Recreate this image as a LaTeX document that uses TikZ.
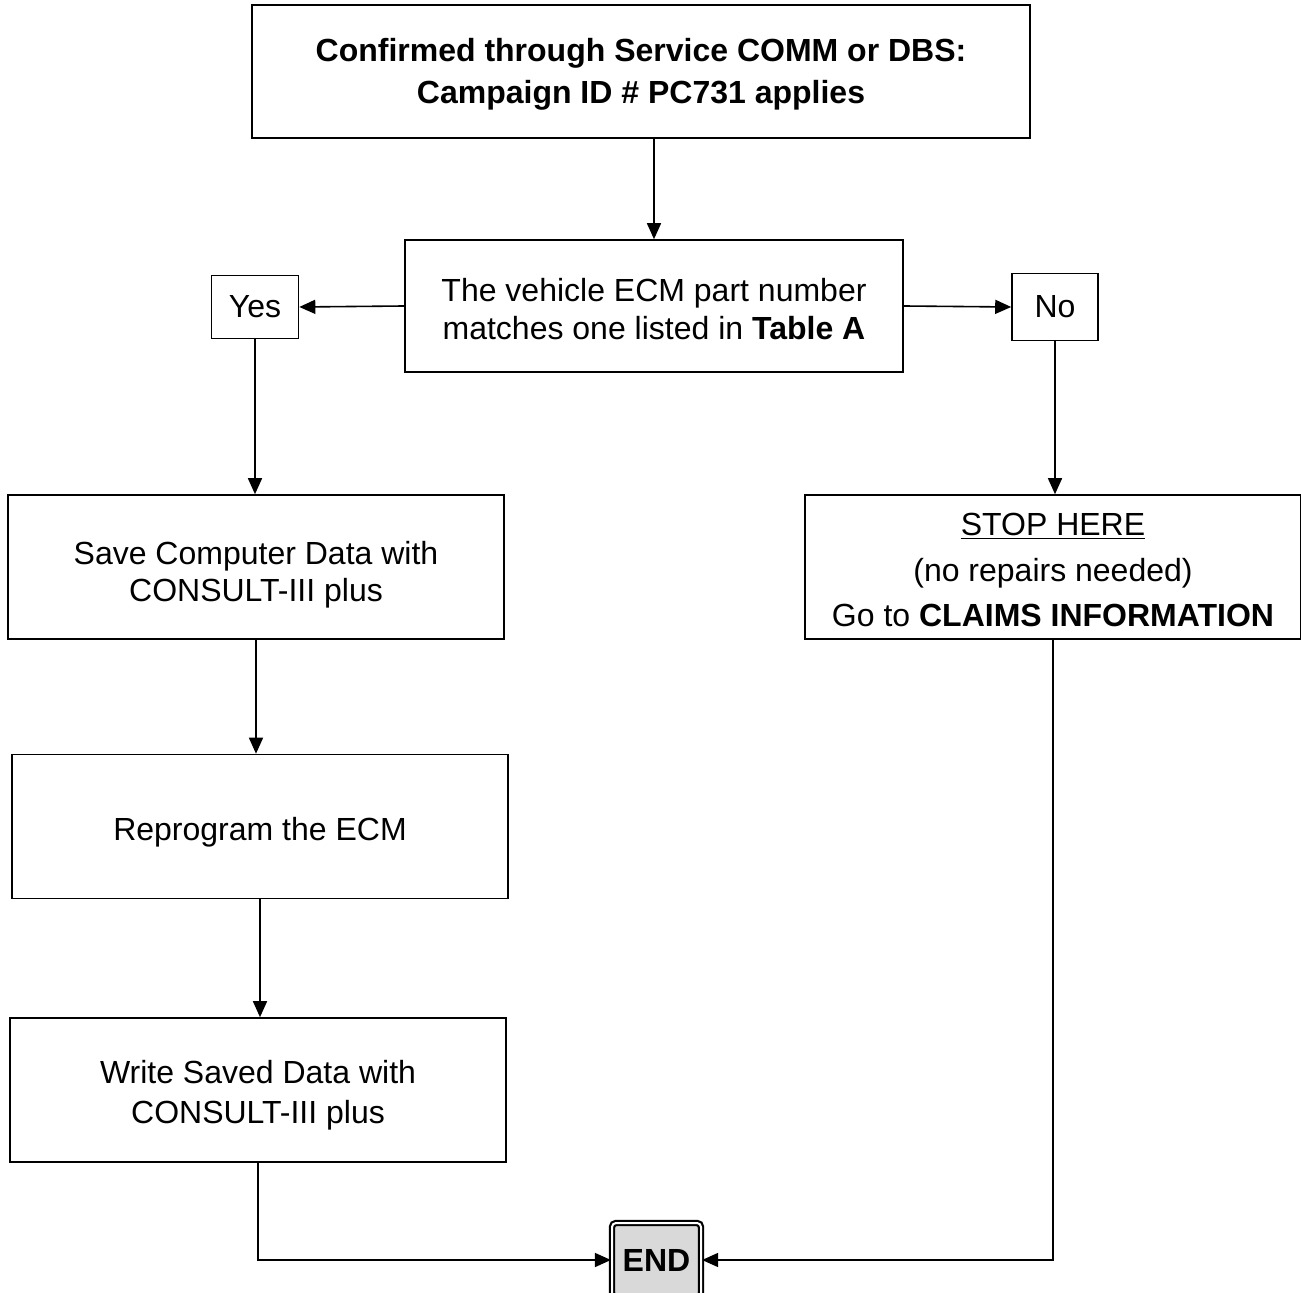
\documentclass[tikz,border=0pt]{standalone}
\usepackage{fontspec}
\setmainfont{Liberation Sans}
\usepackage{tikz}
\usetikzlibrary{arrows.meta}

% empuja el texto hacia abajo dentro de la caja
\newcommand{\dropline}[1]{\rule{0pt}{#1}}

\begin{document}
\begin{tikzpicture}[x=0.5pt, y=-0.5pt,
    every node/.style={align=center, font=\fontsize{16}{18.5}\selectfont},
    box/.style={draw, line width=0.8pt, inner sep=0pt},
    tip/.style={-{Triangle[length=8pt,width=7pt]}, line width=0.8pt}]
    \useasboundingbox (0,0) rectangle (1301,1293);

    % Caja de inicio y decision
    \node[box, minimum width=389pt, minimum height=66.5pt,
        font=\fontsize{16}{21}\selectfont] (start) at (641,71.5)
        {\dropline{14.3pt}\textbf{Confirmed through Service COMM or DBS:}\\ \textbf{Campaign ID \# PC731 applies}};
    \node[box, minimum width=249pt, minimum height=66pt,
        font=\fontsize{16}{18.75}\selectfont] (ecm) at (654,306)
        {\dropline{14.7pt}The vehicle ECM part number\\ matches one listed in \textbf{Table A}};

    % Respuestas
    \node[box, minimum width=43.5pt, minimum height=31.5pt] (yes) at (255,307) {Yes};
    \node[box, minimum width=43pt, minimum height=33.5pt] (no) at (1055,307) {No};

    % Rama izquierda
    \node[box, minimum width=248pt, minimum height=72pt] (save) at (256,567)
        {\dropline{19.5pt}Save Computer Data with\\ CONSULT-III plus};
    \node[box, minimum width=248pt, minimum height=72pt] (reprog) at (260,826.5)
        {\dropline{17.3pt}Reprogram the ECM};
    \node[box, minimum width=248pt, minimum height=72pt,
        font=\fontsize{16}{20}\selectfont] (write) at (258,1090)
        {\dropline{17pt}Write Saved Data with\\ CONSULT-III plus};

    % Rama derecha
    \node[box, minimum width=248pt, minimum height=72pt,
        font=\fontsize{16}{22.75}\selectfont] (stop) at (1053,567)
        {\dropline{14.2pt}\underline{STOP HERE}\\ (no repairs needed)\\ Go to \textbf{CLAIMS INFORMATION}};

    % Fin
    \node[draw, line width=1.1pt, double=white, double distance=1pt, fill=gray!30,
        rounded corners=2pt, minimum width=44.5pt, minimum height=37pt, inner sep=0pt]
        (end) at (656.5,1260) {\textbf{END}};

    % Flechas
    \draw[tip] (start.south -| ecm.north) -- (ecm.north);
    \draw[tip] (ecm.west) -- (yes.east);
    \draw[tip] (ecm.east) -- (no.west);
    \draw[tip] (yes.south) -- (yes.south |- save.north);
    \draw[tip] (save.south) -- (save.south |- reprog.north);
    \draw[tip] (reprog.south) -- (reprog.south |- write.north);
    \draw[tip] (no.south) -- (no.south |- stop.north);
    \draw[tip] (write.south) |- (end.west);
    \draw[tip] (stop.south) |- (end.east);
\end{tikzpicture}
\end{document}
